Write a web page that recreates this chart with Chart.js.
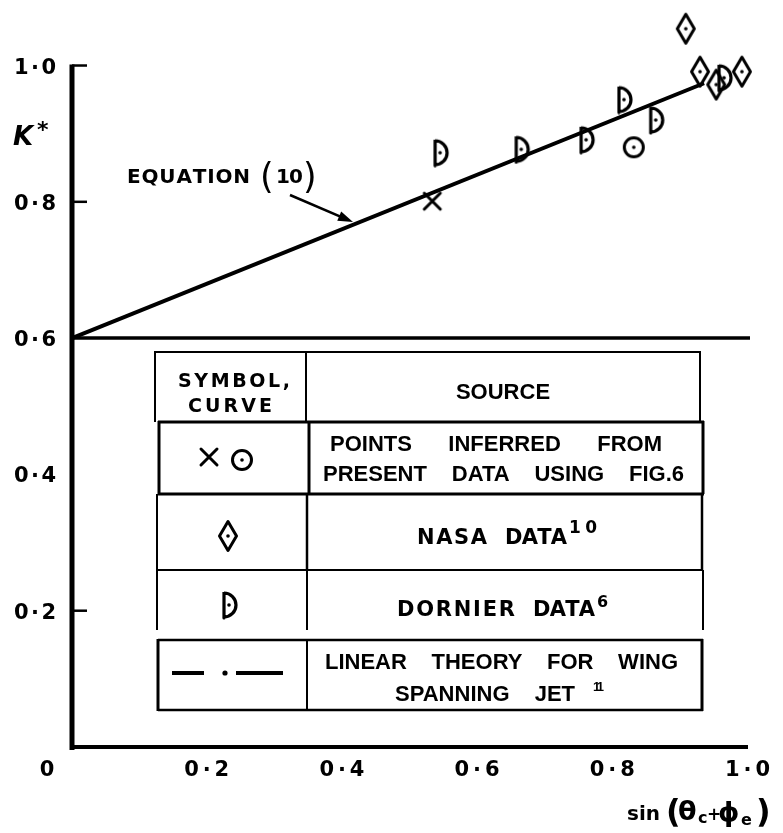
<!DOCTYPE html>
<html>
<head>
<meta charset="utf-8">
<style>
  html, body { margin: 0; background: #fff; }
  #wrap { width: 783px; height: 833px; }
</style>
<script src="https://cdn.jsdelivr.net/npm/chart.js@4.4.1/dist/chart.umd.min.js"></script>
</head>
<body>
<div id="wrap"><canvas id="chart" width="783" height="833"></canvas></div>
<script>
// ===== AXES =====
const xTickValues = [0, 0.2, 0.4, 0.6, 0.8, 1.0];
const xTickLabels = ['0', '0·2', '0·4', '0·6', '0·8', '1·0'];
const yTickValues = [0.2, 0.4, 0.6, 0.8, 1.0];
const yTickLabels = ['0·2', '0·4', '0·6', '0·8', '1·0'];
const yTickMarks = [0.2, 0.8, 1.0];
const yRuleValue = 0.6;

// ===== EQUATION (10) =====
const equationX = [0, 0.935];
const equationY = [0.6, 0.974];

// ===== POINTS =====
const crossX = [0.533];
const crossY = [0.801];
const circleX = [0.831];
const circleY = [0.880];
const nasaX = [0.908, 0.929, 0.953, 0.991];
const nasaY = [1.054, 0.991, 0.972, 0.991];
const dornierX = [0.546, 0.666, 0.762, 0.818, 0.865, 0.966];
const dornierY = [0.872, 0.877, 0.891, 0.950, 0.920, 0.982];

// ===== KEY TABLE =====
const legendHead = ['SYMBOL,', 'CURVE', 'SOURCE'];
const legendSources = [
  ['POINTS INFERRED FROM', 'PRESENT DATA USING FIG.6'],
  ['NASA DATA'],
  ['DORNIER DATA'],
  ['LINEAR THEORY FOR WING', 'SPANNING JET'],
];
const legendRefs = ['', '10', '6', '11'];

const LETTER = '"DejaVu Sans", sans-serif';
const ARIAL = '"Liberation Sans", Arial, sans-serif';

function pairs(xs, ys) {
  return xs.map((x, i) => ({ x, y: ys[i] }));
}

function makeMarker(w, h, draw) {
  const c = document.createElement('canvas');
  c.width = w;
  c.height = h;
  const g = c.getContext('2d');
  g.strokeStyle = '#000';
  g.fillStyle = '#000';
  g.lineWidth = 3;
  g.lineJoin = 'round';
  draw(g, w, h);
  return c;
}

function dot(g, x, y) {
  g.beginPath();
  g.arc(x, y, 1.8, 0, Math.PI * 2);
  g.fill();
}

const diamondImg = makeMarker(22, 34, (g, w, h) => {
  g.beginPath();
  g.moveTo(w / 2, 2.5);
  g.lineTo(w - 2.5, h / 2);
  g.lineTo(w / 2, h - 2.5);
  g.lineTo(2.5, h / 2);
  g.closePath();
  g.stroke();
  dot(g, w / 2, h / 2);
});

const dornierImg = makeMarker(20, 30, (g, w, h) => {
  g.lineWidth = 3.2;
  g.beginPath();
  g.moveTo(4, 2);
  g.lineTo(4, h - 2);
  g.ellipse(4, h / 2, 12, h / 2 - 3, 0, Math.PI / 2, -Math.PI / 2, true);
  g.stroke();
  dot(g, 9, h / 2);
});

const circleImg = makeMarker(26, 26, (g, w, h) => {
  g.beginPath();
  g.arc(w / 2, h / 2, 9.5, 0, Math.PI * 2);
  g.stroke();
  dot(g, w / 2, h / 2);
});

const crossImg = makeMarker(22, 22, (g, w, h) => {
  g.lineCap = 'round';
  g.beginPath();
  g.moveTo(3, 3);
  g.lineTo(w - 3, h - 3);
  g.moveTo(w - 3, 3);
  g.lineTo(3, h - 3);
  g.stroke();
});

function line(ctx, x0, y0, x1, y1, lw) {
  ctx.lineWidth = lw;
  ctx.beginPath();
  ctx.moveTo(x0, y0);
  ctx.lineTo(x1, y1);
  ctx.stroke();
}

// spread the characters of one word between x0 and x1
function spaced(ctx, text, x0, x1, y) {
  const chars = [...text];
  const widths = chars.map((ch) => ctx.measureText(ch).width);
  const total = widths.reduce((a, b) => a + b, 0);
  const gap = chars.length > 1 ? (x1 - x0 - total) / (chars.length - 1) : 0;
  let x = x0;
  ctx.textAlign = 'left';
  chars.forEach((ch, i) => {
    ctx.fillText(ch, x, y);
    x += widths[i] + gap;
  });
}

// spread the words of one line between x0 and x1
function justify(ctx, text, x0, x1, y) {
  const words = text.split(' ');
  const widths = words.map((w) => ctx.measureText(w).width);
  const total = widths.reduce((a, b) => a + b, 0);
  const gap = words.length > 1 ? (x1 - x0 - total) / (words.length - 1) : 0;
  let x = x0;
  ctx.textAlign = 'left';
  words.forEach((w, i) => {
    ctx.fillText(w, x, y);
    x += widths[i] + gap;
  });
}

function drawCentered(ctx, img, x, y) {
  ctx.drawImage(img, x - img.width / 2, y - img.height / 2);
}

function drawAxes(chart) {
  const { ctx, scales: { x, y } } = chart;
  const x0 = x.getPixelForValue(0);
  const y0 = y.getPixelForValue(0);
  const yTop = y.getPixelForValue(1.0);
  ctx.save();
  ctx.strokeStyle = '#000';
  ctx.lineCap = 'butt';
  line(ctx, x0, yTop - 1, x0, y0 + 3, 5);
  line(ctx, x0, y0, x.getPixelForValue(1.0), y0, 4);
  const yr = y.getPixelForValue(yRuleValue);
  line(ctx, x0, yr, x.getPixelForValue(1.0) + 2, yr, 3.5);
  yTickMarks.forEach((v) => {
    const py = y.getPixelForValue(v);
    line(ctx, x0, py, x0 + 15, py, 2.5);
  });
  ctx.restore();
}

function drawLabels(chart) {
  const { ctx, scales: { x, y } } = chart;
  ctx.save();
  ctx.fillStyle = '#000';
  ctx.textBaseline = 'alphabetic';
  ctx.font = `700 21px ${LETTER}`;

  yTickValues.forEach((v, i) => {
    const py = y.getPixelForValue(v) + 8;
    spaced(ctx, yTickLabels[i], 14, 56, py);
  });

  xTickValues.forEach((v, i) => {
    const px = x.getPixelForValue(v);
    const by = 776;
    if (v === 0) {
      ctx.textAlign = 'center';
      ctx.fillText(xTickLabels[i], px - 25, by);
    } else {
      spaced(ctx, xTickLabels[i], px - 23, px + 22, by);
    }
  });

  // K*
  ctx.textAlign = 'left';
  ctx.font = `oblique 700 26px ${LETTER}`;
  ctx.fillText('K', 13, 145);
  ctx.font = `700 22px ${LETTER}`;
  ctx.fillText('*', 37, 137);

  // x axis title: sin (θc+ϕe)
  const pieces = [
    { t: 'sin', font: `700 20px ${LETTER}`, x: 627, y: 820 },
    { t: '(', font: `700 32px ${LETTER}`, x: 666, y: 822 },
    { t: 'θ', font: `700 27px ${LETTER}`, x: 678, y: 820 },
    { t: 'c', font: `700 16px ${LETTER}`, x: 698, y: 823 },
    { t: '+', font: `700 17px ${LETTER}`, x: 707, y: 820 },
    { t: 'ϕ', font: `700 27px ${LETTER}`, x: 718, y: 821 },
    { t: 'e', font: `700 16px ${LETTER}`, x: 741, y: 825 },
    { t: ')', font: `700 32px ${LETTER}`, x: 756, y: 822 },
  ];
  pieces.forEach((p) => {
    ctx.font = p.font;
    ctx.fillText(p.t, p.x, p.y);
  });

  // EQUATION (10) with arrow
  ctx.font = `700 20px ${LETTER}`;
  spaced(ctx, 'EQUATION', 127, 250, 183);
  spaced(ctx, '10', 276, 303, 183);
  ctx.font = `400 35px ${LETTER}`;
  ctx.fillText('(', 260, 188);
  ctx.fillText(')', 303, 188);

  ctx.strokeStyle = '#000';
  const ax0 = 290, ay0 = 195, ax1 = 353, ay1 = 222;
  const ang = Math.atan2(ay1 - ay0, ax1 - ax0);
  line(ctx, ax0, ay0, ax1 - 8 * Math.cos(ang), ay1 - 8 * Math.sin(ang), 2.5);
  ctx.beginPath();
  ctx.moveTo(ax1, ay1);
  ctx.lineTo(ax1 - 15 * Math.cos(ang) + 5 * Math.sin(ang), ay1 - 15 * Math.sin(ang) - 5 * Math.cos(ang));
  ctx.lineTo(ax1 - 15 * Math.cos(ang) - 5 * Math.sin(ang), ay1 - 15 * Math.sin(ang) + 5 * Math.cos(ang));
  ctx.closePath();
  ctx.fill();
  ctx.restore();
}

function drawTable(chart) {
  const { ctx } = chart;
  ctx.save();
  ctx.strokeStyle = '#000';
  ctx.fillStyle = '#000';

  // header row
  line(ctx, 155, 352, 700, 352, 2);
  line(ctx, 155, 351, 155, 422, 2);
  line(ctx, 306, 351, 306, 422, 2);
  line(ctx, 700, 351, 700, 422, 2);
  // row 2
  line(ctx, 158, 422, 704, 422, 3);
  line(ctx, 159, 421, 159, 494, 3);
  line(ctx, 309, 421, 309, 494, 3);
  line(ctx, 703, 421, 703, 494, 3);
  line(ctx, 158, 494, 704, 494, 3);
  // row 3
  line(ctx, 157, 494, 157, 570, 2);
  line(ctx, 307, 494, 307, 570, 2.5);
  line(ctx, 702, 494, 702, 570, 2.5);
  line(ctx, 156, 570, 703, 570, 2);
  // row 4 (open at the bottom)
  line(ctx, 157, 570, 157, 630, 2);
  line(ctx, 307, 570, 307, 630, 2);
  line(ctx, 703, 570, 703, 630, 2);
  // row 5
  line(ctx, 158, 640, 703, 640, 2.5);
  line(ctx, 158, 639, 158, 711, 3);
  line(ctx, 307, 640, 307, 711, 2);
  line(ctx, 702, 639, 702, 711, 3);
  line(ctx, 158, 710, 703, 710, 2.5);

  // header text
  ctx.font = `700 19px ${LETTER}`;
  spaced(ctx, legendHead[0], 178, 290, 387);
  spaced(ctx, legendHead[1], 188, 272, 412);
  ctx.font = `700 22px ${ARIAL}`;
  ctx.textAlign = 'center';
  ctx.fillText(legendHead[2], 503, 399);

  // row 2
  justify(ctx, legendSources[0][0], 330, 662, 451);
  justify(ctx, legendSources[0][1], 323, 684, 481);

  // row 3
  ctx.font = `700 21px ${LETTER}`;
  const nasa = legendSources[1][0].split(' ');
  spaced(ctx, nasa[0], 417, 487, 544);
  spaced(ctx, nasa[1], 505, 567, 544);
  ctx.font = `700 17px ${LETTER}`;
  spaced(ctx, legendRefs[1], 569, 597, 533);

  // row 4
  ctx.font = `700 21px ${LETTER}`;
  const dornier = legendSources[2][0].split(' ');
  spaced(ctx, dornier[0], 397, 515, 616);
  spaced(ctx, dornier[1], 533, 595, 616);
  ctx.font = `700 16px ${LETTER}`;
  ctx.textAlign = 'left';
  ctx.fillText(legendRefs[2], 597, 607);

  // row 5
  ctx.font = `700 22px ${ARIAL}`;
  justify(ctx, legendSources[3][0], 325, 678, 669);
  justify(ctx, legendSources[3][1], 395, 575, 701);
  ctx.font = `700 13px ${ARIAL}`;
  spaced(ctx, legendRefs[3], 593, 604, 691);

  // symbols
  drawCentered(ctx, crossImg, 209, 457);
  drawCentered(ctx, circleImg, 242, 460);
  drawCentered(ctx, diamondImg, 228, 536);
  drawCentered(ctx, dornierImg, 230, 605);
  ctx.lineCap = 'butt';
  line(ctx, 172, 673, 204, 673, 4);
  line(ctx, 236, 673, 283, 673, 4);
  ctx.beginPath();
  ctx.arc(225, 673, 2.6, 0, Math.PI * 2);
  ctx.fill();
  ctx.restore();
}

const paperPlugin = {
  id: 'paper',
  beforeDraw(chart) {
    const { ctx, width, height } = chart;
    ctx.save();
    ctx.fillStyle = '#fff';
    ctx.fillRect(0, 0, width, height);
    ctx.restore();
  },
  beforeDatasetsDraw(chart) {
    drawAxes(chart);
  },
  afterDraw(chart) {
    drawLabels(chart);
    drawTable(chart);
  },
};

const pointSet = (data, style) => ({
  data,
  showLine: false,
  pointStyle: style,
  pointRadius: 10,
  pointHoverRadius: 10,
  clip: false,
});

new Chart(document.getElementById('chart'), {
  type: 'scatter',
  data: {
    datasets: [
      {
        label: 'Equation (10)',
        data: pairs(equationX, equationY),
        showLine: true,
        borderColor: '#000',
        borderWidth: 4,
        pointRadius: 0,
        clip: false,
      },
      pointSet(pairs(crossX, crossY), crossImg),
      pointSet(pairs(circleX, circleY), circleImg),
      pointSet(pairs(nasaX, nasaY), diamondImg),
      pointSet(pairs(dornierX, dornierY), dornierImg),
    ],
  },
  options: {
    responsive: false,
    animation: false,
    devicePixelRatio: 1,
    // y runs to 1.08 so the highest NASA point stays inside the plot area
    layout: { padding: { left: 72, right: 35, top: 4, bottom: 86 } },
    scales: {
      x: { type: 'linear', min: 0, max: 1, display: false },
      y: { type: 'linear', min: 0, max: 1.08, display: false },
    },
    plugins: {
      legend: { display: false },
      tooltip: { enabled: false },
    },
  },
  plugins: [paperPlugin],
});
</script>
</body>
</html>
